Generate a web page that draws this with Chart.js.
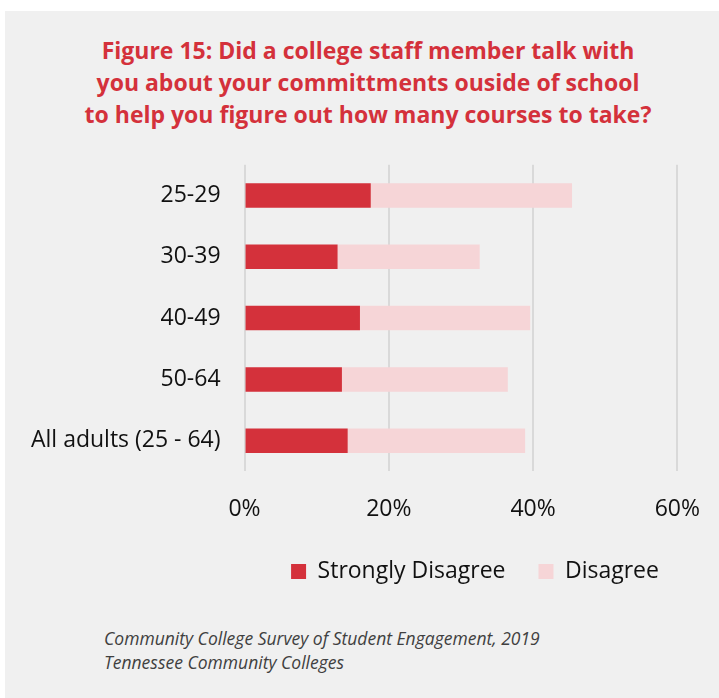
<!DOCTYPE html>
<html>
<head>
<meta charset="utf-8">
<script src="https://cdn.jsdelivr.net/npm/chart.js@4/dist/chart.umd.min.js"></script>
<style>
  html { background: #f0f0f0; }
  body { margin: 0; background: #f0f0f0; width: 719px; height: 698px; overflow: hidden; }
  #topStrip { position: absolute; left: 0; top: 0; width: 719px; height: 11px; background: #ffffff; }
  #leftStrip { position: absolute; left: 0; top: 0; width: 5px; height: 698px; background: #ffffff; }
  #title { position: absolute; left: 11px; top: 34px; width: 714px; text-align: center;
    font-family: "Open Sans", sans-serif; font-weight: 700; font-size: 23px; line-height: 32px;
    color: #d4313b; }
  #chartBox { position: absolute; left: 0; top: 127px; width: 724px; height: 496px; }
  #note { position: absolute; left: 104px; top: 626px; font-family: "Open Sans", sans-serif;
    font-style: italic; font-size: 17.5px; line-height: 24px; color: #404040; }
</style>
</head>
<body>
<div id="topStrip"></div>
<div id="leftStrip"></div>
<div id="title">Figure 15: Did a college staff member talk with<br>you about your committments ouside of school<br>to help you figure out how many courses to take?</div>
<div id="chartBox"><canvas id="chart"></canvas></div>
<div id="note">Community College Survey of Student Engagement, 2019<br>Tennessee Community Colleges</div>
<script>
// Chart data
const ageGroups = ["25-29", "30-39", "40-49", "50-64", "All adults (25 - 64)"];
const stronglyDisagree = [17.5, 12.9, 16.0, 13.5, 14.3];
const disagree = [27.9, 19.7, 23.6, 23.0, 24.6];
const xTicks = [0, 20, 40, 60];

// move the legend, the original one sits right of centre and closer to the axis
const legendShift = {
  id: 'legendShift',
  afterLayout(chart) {
    chart.legend.left += 127;
    chart.legend.right += 127;
    chart.legend.top -= 20;
    chart.legend.bottom -= 20;
  }
};

let ctx = document.getElementById("chart");
let chart = new Chart(ctx, {
  type: 'bar',
  data: {
    labels: ageGroups,
    datasets: [{
      label: 'Strongly Disagree',
      data: stronglyDisagree,
      backgroundColor: '#d4313b',
      categoryPercentage: 0.8,
      barPercentage: 0.5
    }, {
      label: 'Disagree',
      data: disagree,
      backgroundColor: '#f6d5d7',
      categoryPercentage: 0.8,
      barPercentage: 0.5
    }]
  },
  options: {
    indexAxis: 'y',
    responsive: true,
    maintainAspectRatio: false,
    animation: false,
    layout: { padding: { left: 7, right: 35, top: 14, bottom: 10 } },
    scales: {
      x: {
        stacked: true,
        min: 0,
        max: 60,
        afterBuildTicks: axis => { axis.ticks = xTicks.map(v => ({ value: v })); },
        grid: { color: '#d9d9d9', lineWidth: 2, drawTicks: false },
        border: { display: false },
        ticks: {
          padding: 24,
          color: '#111111',
          font: { family: 'Open Sans', size: 23 },
          callback: v => v + '%'
        }
      },
      y: {
        stacked: true,
        grid: { display: false, drawTicks: false },
        border: { display: false },
        ticks: {
          padding: 24,
          color: '#111111',
          font: { family: 'Open Sans', size: 23 }
        }
      }
    },
    plugins: {
      legend: {
        position: 'bottom',
        labels: {
          boxWidth: 15,
          boxHeight: 15,
          padding: 33,
          color: '#111111',
          font: { family: 'Open Sans', size: 23 }
        }
      },
      tooltip: { enabled: false }
    }
  },
  plugins: [legendShift]
});
</script>
</body>
</html>
